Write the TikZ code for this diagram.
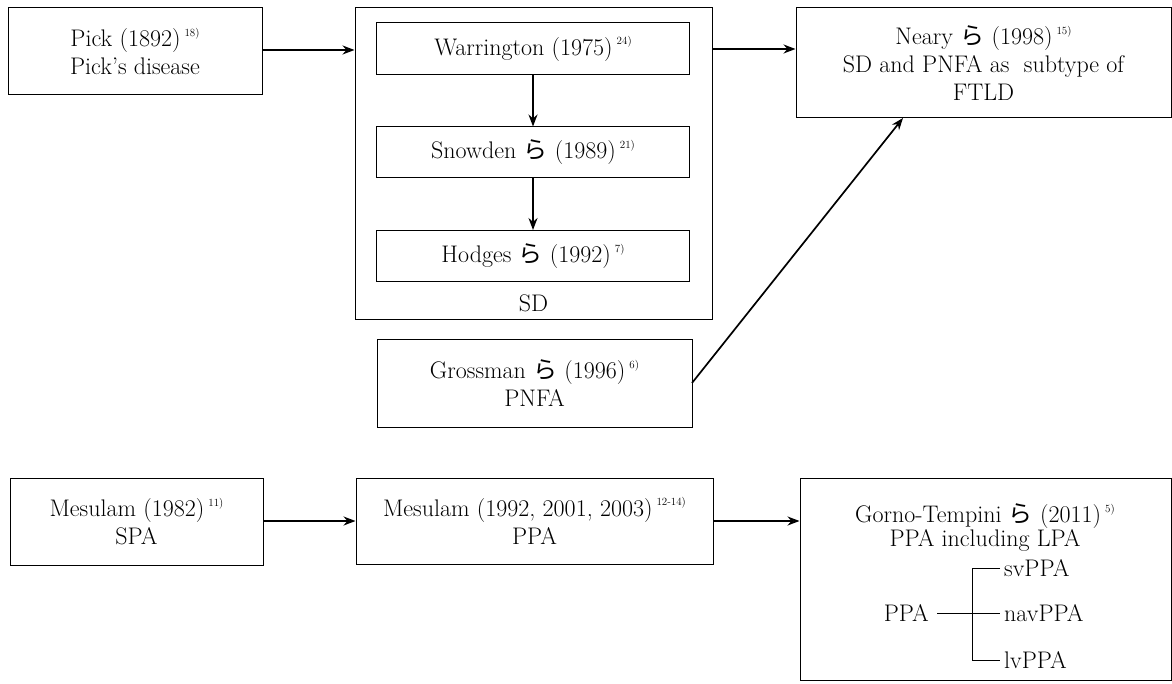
\documentclass[tikz,border=0pt]{standalone}
\usepackage{fontspec}
\newfontfamily\jp{Noto Sans CJK JP}
\usetikzlibrary{arrows.meta}
\newcommand\ra{{\jp ら}}
\newcommand\refn[1]{\,\raisebox{1.0ex}{\fontsize{11}{11}\selectfont #1}}
\begin{document}
\begin{tikzpicture}[x=1pt,y=-1pt,
  font=\fontsize{24}{28}\selectfont,
  box/.style={draw, line width=1pt, inner sep=0pt, align=center},
  arr/.style={line width=1.7pt, -{Stealth[length=12pt,width=9pt,fill=black!65]}},
  ln/.style={line width=1pt},
  lbl/.style={inner sep=0pt, align=center}]
\useasboundingbox (0,0) rectangle (1172,684);
% top row
\node[box, minimum width=254pt, minimum height=87pt] (pick) at (135,51.5)
  {Pick (1892)\refn{18)}\\Pick's disease};
\node[box, minimum width=357pt, minimum height=312pt] (sd) at (533.5,164) {};
\node[box, minimum width=313pt, minimum height=52pt] (war) at (533,49)
  {Warrington (1975)\refn{24)}};
\node[box, minimum width=313pt, minimum height=51pt] (snow) at (533,152.5)
  {Snowden \ra{} (1989)\refn{21)}};
\node[box, minimum width=313pt, minimum height=51pt] (hodg) at (533,256)
  {Hodges \ra{} (1992)\refn{7)}};
\node[lbl] (sdl) at (533.5,303) {SD};
\node[box, minimum width=315pt, minimum height=87pt] (gross) at (534.5,383.5)
  {Grossman \ra{} (1996)\refn{6)}\\PNFA};
\node[box, minimum width=375pt, minimum height=110pt] (neary) at (983.5,63)
  {Neary \ra{} (1998)\refn{15)}\\SD and PNFA as\ \ subtype of\\FTLD};
\coordinate (py) at (0,50);
\draw[arr] (pick.east |- py) -- (sd.west |- py);
\draw[arr] (sd.east |- war) -- (neary.west |- war);
\draw[arr] (war) -- (snow);
\draw[arr] (snow) -- (hodg);
\coordinate (gs) at (692,383);
\coordinate (ne) at (903,118);
\draw[arr] (gs) -- (ne);
% bottom row
\node[box, minimum width=253pt, minimum height=87pt] (mes82) at (136.5,521.5)
  {Mesulam (1982)\refn{11)}\\SPA};
\node[box, minimum width=357pt, minimum height=86pt] (mes92) at (534.5,521)
  {Mesulam (1992, 2001, 2003)\refn{12-14)}\\PPA};
\node[box, minimum width=371pt, minimum height=202pt] (gorno) at (985.5,579) {};
\node[lbl] (gt1) at (985,516) {Gorno-Tempini \ra{} (2011)\refn{5)}};
\node[lbl] (gt2) at (985,540) {PPA including LPA};
\draw[arr] (mes82.east |- mes92.east) -- (mes92.west);
\draw[arr] (mes92.east) -- (gorno.west |- mes92.east);
\node[lbl, anchor=east] (ppa) at (929,613) {PPA};
\node[lbl, anchor=west] (sv) at (1004,568) {svPPA};
\node[lbl, anchor=west] (nav) at (1004,613) {navPPA};
\node[lbl, anchor=west] (lv) at (1004,660) {lvPPA};
\coordinate (br) at (972,613);
\draw[ln] (ppa.east) ++(8,0) -- (br);
\draw[ln] (sv.west) ++(-4,0) -| (972,660) -- ([xshift=-4pt]lv.west);
\draw[ln] (br) -- ([xshift=-4pt]nav.west);
\end{tikzpicture}
\end{document}
